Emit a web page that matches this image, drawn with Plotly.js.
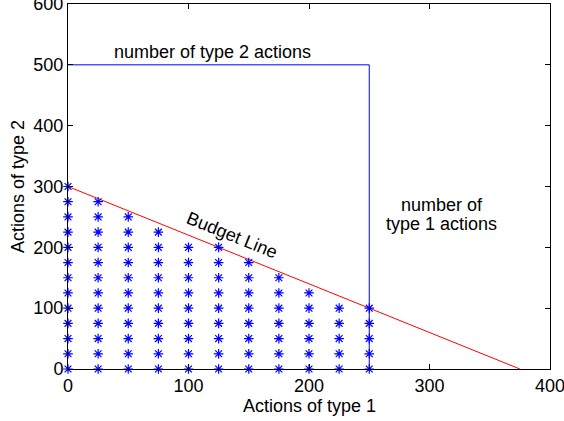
<!DOCTYPE html>
<html>
<head>
<meta charset="utf-8">
<script src="https://cdn.plot.ly/plotly-3.0.1.min.js"></script>
<style>html,body{margin:0;padding:0;background:#fff;}#chart{width:564px;height:421px;}</style>
</head>
<body>
<div id="chart"></div>
<script>
// Feasible action combinations (columns of asterisks)
const colX = [0, 25, 50, 75, 100, 125, 150, 175, 200, 225, 250];
const colY = [
  [0, 25, 50, 75, 100, 125, 150, 175, 200, 225, 250, 275, 300],
  [0, 25, 50, 75, 100, 125, 150, 175, 200, 225, 250, 275],
  [0, 25, 50, 75, 100, 125, 150, 175, 200, 225, 250],
  [0, 25, 50, 75, 100, 125, 150, 175, 200, 225],
  [0, 25, 50, 75, 100, 125, 150, 175, 200],
  [0, 25, 50, 75, 100, 125, 150, 175, 200],
  [0, 25, 50, 75, 100, 125, 150, 175],
  [0, 25, 50, 75, 100, 125, 150],
  [0, 25, 50, 75, 100, 125],
  [0, 25, 50, 75, 100],
  [0, 25, 50, 75, 100]
];
// Budget line endpoints
const budgetX = [0, 375];
const budgetY = [300, 0];
// Limits on number of actions
const limitX = [0, 250, 250];
const limitY = [500, 500, 0];

const ptsX = [], ptsY = [];
colX.forEach((x, i) => colY[i].forEach(y => { ptsX.push(x); ptsY.push(y); }));

const font = {family: 'Liberation Sans, Arial, Helvetica, sans-serif', size: 18, color: '#000'};

const data = [
  {x: limitX, y: limitY, mode: 'lines', line: {color: '#0000ff', width: 1}, hoverinfo: 'skip', cliponaxis: false},
  {x: budgetX, y: budgetY, mode: 'lines', line: {color: '#ff0000', width: 1}, hoverinfo: 'skip'},
  {x: ptsX, y: ptsY, mode: 'markers', cliponaxis: false,
   marker: {symbol: 'asterisk-open', size: 8, color: '#0000ff', line: {color: '#0000ff', width: 1.2}}}
];

const axisCommon = {
  showgrid: false, zeroline: false, showline: true, linecolor: '#000', linewidth: 1,
  mirror: 'ticks', ticks: 'inside', ticklen: 5, tickcolor: '#000', tickfont: font,
  ticklabeloverflow: 'allow'
};

const layout = {
  width: 564, height: 421,
  margin: {l: 68, r: 14, t: 4, b: 52, pad: 0},
  paper_bgcolor: '#fff', plot_bgcolor: '#fff',
  showlegend: false,
  font: font,
  xaxis: Object.assign({}, axisCommon, {range: [0, 400], tickvals: [0, 100, 200, 300, 400]}),
  yaxis: Object.assign({}, axisCommon, {range: [0, 600], tickvals: [0, 100, 200, 300, 400, 500, 600],
    title: {text: 'Actions of type 2', font: font, standoff: 4}}),
  annotations: [
    {x: 0.5, y: -0.101, xref: 'paper', yref: 'paper', xanchor: 'center', yanchor: 'middle',
     text: 'Actions of type 1', showarrow: false, font: font},
    {x: 120, y: 521, xref: 'x', yref: 'y', text: 'number of type 2 actions', showarrow: false, font: font},
    {x: 310, y: 269, xref: 'x', yref: 'y', text: 'number of', showarrow: false, font: font},
    {x: 310, y: 238, xref: 'x', yref: 'y', text: 'type 1 actions', showarrow: false, font: font},
    {x: 136, y: 220, xref: 'x', yref: 'y', text: 'Budget Line', showarrow: false, font: font, textangle: 22}
  ]
};

Plotly.newPlot('chart', data, layout, {staticPlot: true});
</script>
</body>
</html>
